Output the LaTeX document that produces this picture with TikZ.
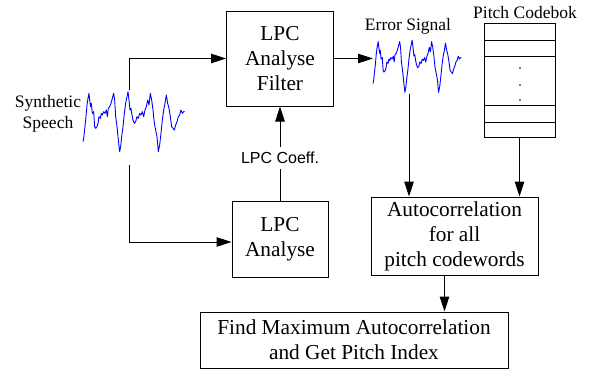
\documentclass[tikz,border=0pt]{standalone}
\usepackage{fontspec}
\setmainfont{Liberation Serif}
\newfontfamily\labelsans{Liberation Sans}
\usetikzlibrary{arrows.meta}
\begin{document}
\begin{tikzpicture}[x=1pt,y=-1pt,
  blockbox/.style={draw, line width=1pt, align=center, inner sep=0pt,
    font=\rmfamily\fontsize{21.3}{25}\selectfont},
  flow/.style={line width=1pt, -{Triangle[length=15pt,width=9.5pt]}},
  plain/.style={line width=1pt},
  wave/.style={draw=blue, line width=0.9pt, line join=round},
  caption/.style={font=\rmfamily\fontsize{17.5}{21}\selectfont, align=center, inner sep=0pt},
  speechwave/.pic={
    \draw[wave] (0,185) -- (2,175) -- (8,120) -- (12,75) -- (15,55) -- (18,40)
      -- (20,60) -- (23,80) -- (25,70) -- (28,100) -- (32,95) -- (35,140)
      -- (38,145) -- (42,140) -- (45,130) -- (48,110) -- (52,115) -- (55,100)
      -- (58,105) -- (62,95) -- (66,100) -- (70,90) -- (73,110) -- (76,85)
      -- (80,80) -- (84,70) -- (88,55) -- (92,40) -- (95,60) -- (98,110)
      -- (102,140) -- (106,180) -- (110,215) -- (113,200) -- (116,170)
      -- (120,140) -- (124,100) -- (128,70) -- (132,50) -- (135,35) -- (138,60)
      -- (141,90) -- (144,85) -- (147,105) -- (150,120) -- (154,130)
      -- (158,125) -- (162,110) -- (166,115) -- (170,100) -- (174,105)
      -- (178,95) -- (182,110) -- (186,90) -- (190,80) -- (194,60) -- (198,75)
      -- (202,40) -- (206,60) -- (210,90) -- (214,130) -- (218,150)
      -- (222,170) -- (226,215) -- (230,195) -- (234,160) -- (238,120)
      -- (242,90) -- (246,70) -- (250,45) -- (254,70) -- (258,85) -- (262,110)
      -- (266,140) -- (270,145) -- (274,150) -- (278,135) -- (282,125)
      -- (286,110) -- (290,105) -- (294,90) -- (298,100) -- (302,95) -- (305,95);
  }
]
\useasboundingbox (0,0) rectangle (591,386);

% processing blocks
\node[blockbox, minimum width=107pt, minimum height=95pt] (filter) at (280,58.5) {LPC\\Analyse\\Filter};
\node[blockbox, minimum width=96pt, minimum height=76pt] (lpc) at (280,239) {LPC\\Analyse};
\node[blockbox, minimum width=167pt, minimum height=78pt] (autocorr) at (454.5,236) {Autocorrelation\\for all\\pitch codewords};
\node[blockbox, minimum width=308pt, minimum height=56pt] (findmax) at (354,340) {Find Maximum Autocorrelation\\and Get Pitch Index};

% pitch codebook table
\node[draw, line width=1pt, minimum width=71pt, minimum height=114pt, inner sep=0pt] (codebook) at (519.5,80) {};
\foreach \yy in {40,56,105,122}
  \draw[plain] (codebook.west |- 0,\yy) -- (codebook.east |- 0,\yy);
\foreach \yy in {68,85,100}
  \fill (520,\yy) circle (0.8pt);

% labels
\node[caption] (speechlabel) at (48,114) {Synthetic\\Speech};
\node[caption] (errlabel) at (408,26) {Error Signal};
\node[caption] (cblabel) at (525,13) {Pitch Codebok};
\node[font=\labelsans\fontsize{16}{19}\selectfont, inner xsep=2pt, inner ysep=5pt] (coeff) at (280,158) {LPC Coeff.};

% waveforms
\pic[shift={(83,80)}, scale=1/3] {speechwave};
\pic[shift={(373,30)}, scale=0.29] {speechwave};

% connector end points at the waveforms
\coordinate (spupper) at (129,90);
\coordinate (splower) at (129,165);
\coordinate (errin) at (373,59);
\coordinate (errout) at (409,94);

% connectors
\draw[flow] (spupper) |- (filter.west);
\draw[flow] (splower) |- ([yshift=-3pt]lpc.west);
\draw[flow] (filter.east) -- (filter.east -| errin);
\draw[plain] (lpc.north) -- (coeff.south);
\draw[flow] (coeff.north) -- (filter.south);
\draw[flow] (errout) -- (errout |- autocorr.north);
\draw[flow] (codebook.south) -- (codebook.south |- autocorr.north);
\draw[flow] ([xshift=-10pt]autocorr.south) -- ([xshift=-10pt]autocorr.south |- findmax.north);
\end{tikzpicture}
\end{document}
